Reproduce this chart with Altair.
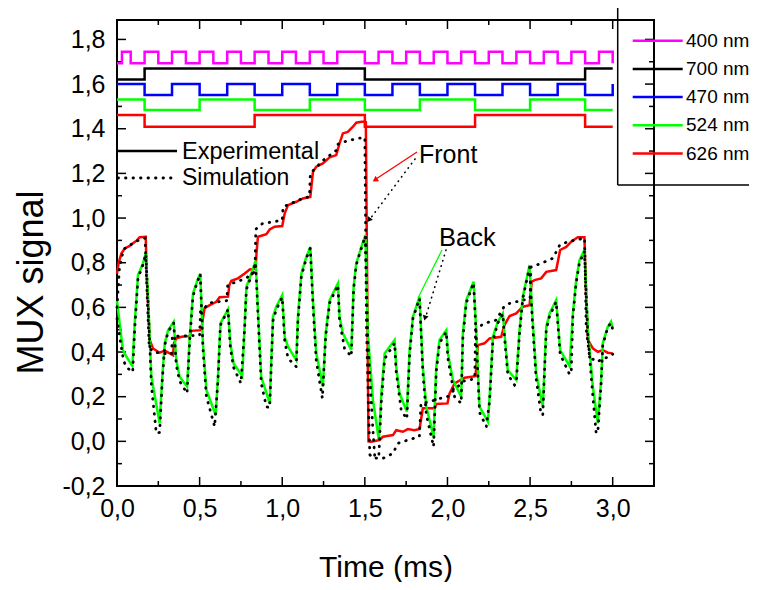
import altair as alt
import pandas as pd

# ---------------- data ----------------
W, H = 537, 466
X_DOMAIN = [0, 3.25]
Y_DOMAIN = [-0.2, 1.887]

x_major = [0.0, 0.5, 1.0, 1.5, 2.0, 2.5, 3.0]
x_minor = [0.25, 0.75, 1.25, 1.75, 2.25, 2.75]
y_major = [-0.2, 0.0, 0.2, 0.4, 0.6, 0.8, 1.0, 1.2, 1.4, 1.6, 1.8]
y_minor = [-0.1, 0.1, 0.3, 0.5, 0.7, 0.9, 1.1, 1.3, 1.5, 1.7]

# LED drive square waves (transition times, level after the transition)
mag_t = [0.0, 0.03, 0.083, 0.167, 0.25, 0.333, 0.417, 0.5, 0.583, 0.667, 0.75, 0.833, 0.917,
         1.0, 1.083, 1.167, 1.25, 1.333, 1.5, 1.583, 1.667, 1.75, 1.833, 1.917, 2.0, 2.083,
         2.167, 2.25, 2.333, 2.417, 2.5, 2.583, 2.667, 2.75, 2.833, 2.917, 3.0]
mag_v = [1.693, 1.745, 1.693, 1.745, 1.693, 1.745, 1.693, 1.745, 1.693, 1.745, 1.693, 1.745, 1.693,
         1.745, 1.693, 1.745, 1.693, 1.745, 1.693, 1.745, 1.693, 1.745, 1.693, 1.745, 1.693, 1.745,
         1.693, 1.745, 1.693, 1.745, 1.693, 1.745, 1.693, 1.745, 1.693, 1.745, 1.693]
blk_t = [0.0, 0.167, 1.5, 2.833, 3.0]
blk_v = [1.621, 1.670, 1.621, 1.670, 1.670]
blu_t = [0.0, 0.167, 0.333, 0.5, 0.667, 0.833, 1.0, 1.167, 1.333, 1.5, 1.667, 1.833, 2.0,
         2.167, 2.333, 2.5, 2.667, 2.833, 3.0]
blu_v = [1.600, 1.551, 1.600, 1.551, 1.600, 1.551, 1.600, 1.551, 1.600, 1.551, 1.600, 1.551, 1.600,
         1.551, 1.600, 1.551, 1.600, 1.551, 1.600]
grn_t = [0.0, 0.167, 0.5, 0.833, 1.167, 1.5, 1.833, 2.167, 2.5, 2.833, 3.0]
grn_v = [1.531, 1.484, 1.531, 1.484, 1.531, 1.484, 1.531, 1.484, 1.531, 1.484, 1.484]
red_sq_t = [0.0, 0.167, 0.833, 1.5, 2.167, 2.833, 3.0]
red_sq_v = [1.461, 1.409, 1.461, 1.409, 1.461, 1.409, 1.409]

# Front signal, experimental (red)
front_t = [0.0, 0.01, 0.027, 0.047, 0.077, 0.097, 0.12, 0.137, 0.174, 0.18, 0.198, 0.218, 0.258,
           0.289, 0.339, 0.345, 0.359, 0.39, 0.44, 0.45, 0.51, 0.52, 0.53, 0.561, 0.601, 0.621,
           0.672, 0.68, 0.692, 0.732, 0.773, 0.803, 0.839, 0.845, 0.853, 0.904, 0.924, 0.954,
           1.0, 1.015, 1.035, 1.085, 1.125, 1.17, 1.186, 1.206, 1.246, 1.287, 1.327, 1.347,
           1.367, 1.397, 1.428, 1.448, 1.479, 1.503, 1.506, 1.522, 1.539, 1.589, 1.61, 1.67,
           1.69, 1.73, 1.76, 1.80, 1.831, 1.851, 1.922, 1.932, 2.0, 2.013, 2.043, 2.104, 2.17,
           2.184, 2.224, 2.255, 2.325, 2.345, 2.376, 2.416, 2.456, 2.497, 2.51, 2.527, 2.567,
           2.598, 2.658, 2.682, 2.719, 2.749, 2.789, 2.829, 2.84, 2.85, 2.88, 2.91, 2.94, 2.97, 3.0]
front_v = [0.75, 0.80, 0.842, 0.864, 0.875, 0.887, 0.90, 0.914, 0.916, 0.737, 0.454, 0.416, 0.397,
           0.406, 0.386, 0.44, 0.461, 0.468, 0.471, 0.495, 0.498, 0.55, 0.596, 0.61, 0.625, 0.645,
           0.648, 0.70, 0.719, 0.73, 0.752, 0.77, 0.773, 0.85, 0.916, 0.928, 0.949, 0.961,
           0.964, 1.021, 1.058, 1.073, 1.088, 1.095, 1.207, 1.23, 1.245, 1.272, 1.282, 1.335,
           1.379, 1.386, 1.409, 1.427, 1.431, 1.431, 1.43, 0.0, -0.002, 0.006, 0.021, 0.028,
           0.05, 0.043, 0.055, 0.05, 0.055, 0.148, 0.148, 0.167, 0.17, 0.215, 0.26, 0.285, 0.292,
           0.431, 0.439, 0.461, 0.468, 0.521, 0.561, 0.573, 0.603, 0.61, 0.715, 0.722, 0.73,
           0.759, 0.767, 0.857, 0.871, 0.894, 0.914, 0.914, 0.633, 0.454, 0.416, 0.401, 0.409, 0.397, 0.394]

# Back signal, experimental (green)
back_t = [0.0, 0.016, 0.036, 0.057, 0.093, 0.107, 0.127, 0.157, 0.174, 0.188, 0.208, 0.258, 0.274,
          0.289, 0.309, 0.343, 0.359, 0.379, 0.424, 0.44, 0.46, 0.484, 0.504, 0.52, 0.541, 0.597,
          0.611, 0.626, 0.672, 0.686, 0.706, 0.758, 0.773, 0.783, 0.813, 0.839, 0.853, 0.873,
          0.924, 0.944, 0.964, 1.0, 1.015, 1.035, 1.085, 1.095, 1.116, 1.146, 1.17, 1.186, 1.206,
          1.246, 1.263, 1.287, 1.337, 1.347, 1.367, 1.418, 1.432, 1.448, 1.479, 1.503, 1.518,
          1.549, 1.585, 1.6, 1.62, 1.68, 1.69, 1.71, 1.754, 1.771, 1.791, 1.831, 1.851, 1.872,
          1.916, 1.932, 1.952, 1.993, 2.003, 2.033, 2.083, 2.093, 2.114, 2.158, 2.174, 2.194,
          2.245, 2.255, 2.275, 2.305, 2.335, 2.345, 2.365, 2.416, 2.436, 2.456, 2.497, 2.513,
          2.537, 2.577, 2.598, 2.618, 2.658, 2.682, 2.739, 2.759, 2.779, 2.799, 2.829, 2.85,
          2.88, 2.91, 2.93, 2.94, 2.97, 2.99, 3.0]
back_v = [0.63, 0.528, 0.409, 0.379, 0.337, 0.528, 0.745, 0.797, 0.842, 0.648, 0.289, 0.081, 0.289,
          0.439, 0.498, 0.536, 0.364, 0.289, 0.245, 0.468, 0.663, 0.715, 0.752, 0.439, 0.23, 0.118,
          0.289, 0.528, 0.591, 0.439, 0.349, 0.292, 0.528, 0.692, 0.752, 0.809, 0.588, 0.289,
          0.17, 0.558, 0.603, 0.655, 0.468, 0.424, 0.364, 0.558, 0.752, 0.827, 0.871, 0.633, 0.394,
          0.245, 0.484, 0.633, 0.708, 0.558, 0.484, 0.409, 0.692, 0.797, 0.871, 0.924, 0.484,
          0.185, 0.006, 0.215, 0.394, 0.454, 0.334, 0.215, 0.133, 0.409, 0.558, 0.648, 0.334, 0.155,
          0.021, 0.334, 0.454, 0.498, 0.394, 0.275, 0.2, 0.484, 0.633, 0.715, 0.498, 0.155,
          0.088, 0.2, 0.468, 0.536, 0.573, 0.484, 0.319, 0.275, 0.498, 0.648, 0.79, 0.573,
          0.304, 0.155, 0.513, 0.573, 0.633, 0.409, 0.337, 0.573, 0.722, 0.812, 0.857, 0.498,
          0.245, 0.081, 0.275, 0.439, 0.513, 0.536, 0.506]

# Front signal, simulation (dotted)
sim_front_t = [0.0, 0.015, 0.04, 0.08, 0.13, 0.17, 0.18, 0.195, 0.22, 0.33, 0.335, 0.5, 0.505, 0.56,
               0.665, 0.67, 0.78, 0.835, 0.84, 0.88, 1.0, 1.005, 1.13, 1.165, 1.17, 1.25, 1.33,
               1.335, 1.39, 1.46, 1.5, 1.51, 1.53, 1.55, 1.61, 1.67, 1.70, 1.76, 1.83, 1.84, 1.89,
               1.96, 2.0, 2.04, 2.10, 2.165, 2.17, 2.22, 2.295, 2.34, 2.376, 2.5, 2.505, 2.567,
               2.638, 2.68, 2.729, 2.83, 2.84, 2.86, 2.9, 2.95, 3.0]
sim_front_v = [0.6, 0.78, 0.86, 0.88, 0.90, 0.91, 0.70, 0.42, 0.40, 0.39, 0.47, 0.475, 0.58, 0.62,
               0.63, 0.70, 0.73, 0.76, 0.95, 0.975, 0.99, 1.05, 1.09, 1.095, 1.20, 1.26, 1.305,
               1.33, 1.345, 1.357, 1.36, 0.5, -0.06, -0.075, -0.076, -0.054, -0.009, 0.006, 0.021,
               0.17, 0.177, 0.193, 0.20, 0.23, 0.27, 0.28, 0.50, 0.528, 0.543, 0.60, 0.618, 0.64,
               0.78, 0.797, 0.82, 0.88, 0.894, 0.91, 0.5, 0.38, 0.356, 0.37, 0.39]

# Back signal, simulation (dotted)
sim_back_t = [0.0, 0.02, 0.04, 0.06, 0.095, 0.107, 0.127, 0.157, 0.174, 0.188, 0.208, 0.238, 0.258,
              0.274, 0.289, 0.309, 0.343, 0.359, 0.379, 0.424, 0.44, 0.46, 0.484, 0.504, 0.52,
              0.541, 0.591, 0.611, 0.626, 0.672, 0.686, 0.706, 0.75, 0.773, 0.783, 0.813, 0.839,
              0.853, 0.873, 0.904, 0.924, 0.944, 0.964, 1.0, 1.015, 1.035, 1.085, 1.095, 1.116,
              1.146, 1.17, 1.186, 1.206, 1.243, 1.263, 1.287, 1.337, 1.347, 1.377, 1.418, 1.432,
              1.448, 1.479, 1.503, 1.518, 1.549, 1.56, 1.585, 1.6, 1.62, 1.68, 1.69, 1.72, 1.754,
              1.771, 1.791, 1.831, 1.851, 1.872, 1.916, 1.932, 1.952, 1.993, 2.003, 2.043, 2.083,
              2.093, 2.114, 2.158, 2.174, 2.194, 2.235, 2.255, 2.275, 2.305, 2.335, 2.345, 2.365,
              2.406, 2.416, 2.436, 2.456, 2.497, 2.513, 2.537, 2.567, 2.577, 2.598, 2.618, 2.658,
              2.682, 2.739, 2.749, 2.759, 2.779, 2.799, 2.829, 2.85, 2.88, 2.9, 2.91, 2.93, 2.94,
              2.97, 2.99, 3.0]
sim_back_v = [0.55, 0.45, 0.36, 0.33, 0.31, 0.50, 0.73, 0.79, 0.84, 0.62, 0.25, 0.036, 0.04,
              0.27, 0.43, 0.49, 0.53, 0.34, 0.27, 0.215, 0.45, 0.65, 0.71, 0.75, 0.42,
              0.2, 0.066, 0.27, 0.52, 0.59, 0.42, 0.33, 0.26, 0.51, 0.68, 0.74, 0.80,
              0.57, 0.26, 0.155, 0.15, 0.54, 0.59, 0.645, 0.45, 0.372, 0.334, 0.54, 0.74,
              0.82, 0.865, 0.61, 0.36, 0.193, 0.47, 0.62, 0.70, 0.54, 0.416, 0.38, 0.68,
              0.79, 0.865, 0.92, 0.45, 0.05, -0.07, -0.06, 0.18, 0.37, 0.44, 0.31, 0.14, 0.10,
              0.39, 0.55, 0.64, 0.31, 0.12, -0.024, 0.31, 0.44, 0.49, 0.37, 0.2, 0.17,
              0.46, 0.62, 0.71, 0.47, 0.13, 0.066, 0.18, 0.45, 0.53, 0.57, 0.47, 0.30,
              0.252, 0.26, 0.48, 0.64, 0.78, 0.55, 0.28, 0.118, 0.12, 0.50, 0.56, 0.625,
              0.39, 0.30, 0.304, 0.56, 0.71, 0.80, 0.85, 0.47, 0.20, 0.036, 0.04, 0.26, 0.43,
              0.51, 0.53, 0.50]

legend_names = ["400 nm", "700 nm", "470 nm", "524 nm", "626 nm"]
legend_colors = ["#ff00ff", "#000000", "#0000ff", "#00ff00", "#ff0000"]

# ---------------- chart ----------------
FONT = "Liberation Sans, Arial, sans-serif"
xs = alt.Scale(domain=X_DOMAIN, nice=False, zero=False)
ys = alt.Scale(domain=Y_DOMAIN, nice=False, zero=False)
LBL = "replace(replace(format(datum.value, '.1f'), '.', ','), '\u2212', '-')"

AX_X = alt.Axis(
    values=x_major, labelExpr=LBL, tickSize=0, domain=False, grid=False,
    labelFont=FONT, labelFontSize=25, labelPadding=10, labelColor="black",
    labelFlush=False, labelOverlap=False,
    title="Time (ms)", titleFont=FONT, titleFontSize=30, titleFontWeight="normal",
    titleColor="black", titleBaseline="alphabetic", titleY=90)
AX_Y = alt.Axis(
    values=y_major, labelExpr=LBL, tickSize=0, domain=False, grid=False,
    labelFont=FONT, labelFontSize=25, labelPadding=12, labelColor="black",
    labelFlush=False, labelOverlap=False, labelBaseline="middle",
    title="MUX signal", titleFont=FONT, titleFontSize=36, titleFontWeight="normal",
    titleColor="black", titleAngle=270, titleX=-86, titleY=262,
    titleAlign="center", titleBaseline="middle")

XF = alt.X("t:Q", scale=xs, axis=AX_X)
YF = alt.Y("v:Q", scale=ys, axis=AX_Y)


def series(t, v):
    return pd.DataFrame({"t": t, "v": v})


layers = []


# tick marks pointing inward
def xticks(vals, length):
    d = pd.DataFrame({"t": vals})
    bot = alt.Chart(d).mark_rule(color="black", strokeWidth=1.5).encode(
        x=XF, y=alt.value(H), y2=alt.value(H - length))
    top = alt.Chart(d).mark_rule(color="black", strokeWidth=1.5).encode(
        x=XF, y=alt.value(0), y2=alt.value(length))
    return [bot, top]


def yticks(vals, length):
    d = pd.DataFrame({"v": vals})
    lft = alt.Chart(d).mark_rule(color="black", strokeWidth=1.5).encode(
        y=YF, x=alt.value(0), x2=alt.value(length))
    rgt = alt.Chart(d).mark_rule(color="black", strokeWidth=1.5).encode(
        y=YF, x=alt.value(W), x2=alt.value(W - length))
    return [lft, rgt]


layers += xticks(x_major, 9) + xticks(x_minor, 5) + yticks(y_major, 9) + yticks(y_minor, 5)

# square waves
for t, v, c in [(mag_t, mag_v, "#ff00ff"), (blk_t, blk_v, "#000000"), (blu_t, blu_v, "#0000ff"),
                (grn_t, grn_v, "#00ff00"), (red_sq_t, red_sq_v, "#ff0000")]:
    layers.append(alt.Chart(series(t, v)).mark_line(
        color=c, strokeWidth=2.5, interpolate="step-after").encode(x=XF, y=YF, order="t:Q"))

# experimental curves
layers.append(alt.Chart(series(front_t, front_v)).mark_line(color="#ff0000", strokeWidth=2.5)
              .encode(x=XF, y=YF, order="t:Q"))
layers.append(alt.Chart(series(back_t, back_v)).mark_line(color="#00ff00", strokeWidth=2.5)
              .encode(x=XF, y=YF, order="t:Q"))
# simulation curves (dotted)
for t, v in [(sim_front_t, sim_front_v), (sim_back_t, sim_back_v)]:
    layers.append(alt.Chart(series(t, v)).mark_line(
        color="black", strokeWidth=2.8, strokeDash=[0.5, 7], strokeCap="round")
        .encode(x=XF, y=YF, order="t:Q"))

ONE = pd.DataFrame({"k": [0]})


def prule(x1, y1, x2, y2, color="black", width=1.5, dash=None):
    kw = dict(color=color, strokeWidth=width)
    if dash:
        kw["strokeDash"] = dash
        kw["strokeCap"] = "round"
    return alt.Chart(ONE).mark_rule(**kw).encode(
        x=alt.value(x1), y=alt.value(y1), x2=alt.value(x2), y2=alt.value(y2))


def ptext(txt, x, y, size, align="left"):
    return alt.Chart(pd.DataFrame({"s": [txt]})).mark_text(
        font=FONT, fontSize=size, align=align, baseline="middle", color="black").encode(
        text="s:N", x=alt.value(x), y=alt.value(y))


def arrowhead(x, y, ang, color, size):
    return alt.Chart(ONE).mark_point(shape="triangle-up", filled=True, color=color, size=size,
                                     angle=ang, opacity=1).encode(x=alt.value(x), y=alt.value(y))


# inner legend (Experimental / Simulation)
layers.append(prule(1, 131, 60, 131, width=2.5))
layers.append(ptext("Experimental", 65, 132, 23.5))
layers.append(prule(1, 158, 60, 158, width=2.8, dash=[0.5, 7]))
layers.append(ptext("Simulation", 65, 158, 23))

# Front / Back annotations
layers.append(ptext("Front", 302, 135, 25))
layers.append(prule(300, 132, 259, 159, color="#ff0000", width=1.3))
layers.append(arrowhead(258, 160, 236.6, "#ff0000", 40))
layers.append(prule(298, 139, 253, 199, width=1.6, dash=[0.5, 5]))
layers.append(arrowhead(252, 200, 216.9, "black", 35))
layers.append(ptext("Back", 322, 218, 25.5))
layers.append(prule(325, 230, 301, 278, color="#00ff00", width=1.3))
layers.append(prule(329, 230, 309, 296, width=1.6, dash=[0.5, 5]))
layers.append(arrowhead(308, 298, 196.7, "black", 35))

# outer legend box
BX, BT, BB = 500.7, -13, 165
layers.append(prule(BX, BT, 660, BT, width=1.5))
layers.append(prule(BX, BB, 660, BB, width=1.5))
layers.append(prule(BX, BT, BX, BB, width=1.5))
for i, (n, c) in enumerate(zip(legend_names, legend_colors)):
    yy = 20.7 + i * 28.2
    layers.append(prule(515.7, yy, 565.7, yy, color=c, width=2.5))
    layers.append(ptext(n, 569, yy, 19))

chart = alt.layer(*layers).properties(
    width=W, height=H,
    autosize=alt.AutoSizeParams(type="none"),
    padding={"left": 109, "top": 12, "right": 95, "bottom": 96},
    background="white",
).configure_view(stroke="black", strokeWidth=2)

chart.save("out.html", embed_options={"renderer": "svg", "actions": False})
